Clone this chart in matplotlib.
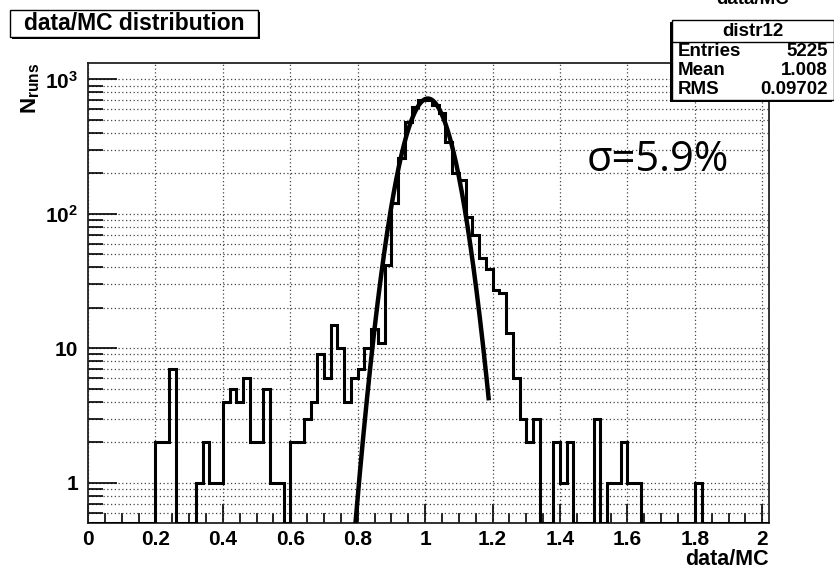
import numpy as np
import matplotlib
matplotlib.use('Agg')
import matplotlib.pyplot as plt
from matplotlib.patches import Rectangle
from matplotlib.ticker import FixedLocator, FixedFormatter, NullFormatter

# histogram "distr12": data/MC ratio per run, 0.02 wide bins starting at 0
bin_width = 0.02
counts = [0, 0, 0, 0, 0, 0, 0, 0, 0, 0,
          2, 2, 7, 0, 0, 0, 1, 2, 1, 1,
          4, 5, 4, 6, 2, 2, 5, 1, 1, 0,
          2, 2, 3, 4, 9, 6, 15, 10, 4, 6,
          7, 10, 14, 11, 42, 120, 262, 483, 624, 700,
          700, 640, 560, 343, 200, 178, 95, 70, 47, 39,
          27, 26, 13, 6, 3, 2, 3, 0, 0, 2,
          1, 2, 0, 0, 0, 3, 0, 1, 1, 2,
          1, 1, 0, 0, 0, 0, 0, 0, 0, 0,
          1, 0, 0, 0, 0, 0, 0, 0, 0, 0,
          0]

# gaussian fit drawn over the peak
fit_amp = 720.0
fit_mean = 1.008
fit_sigma = 0.0563
fit_lo, fit_hi = 0.78, 1.189

stats_name = 'distr12'
stats_rows = [('Entries', '5225'), ('Mean', '1.008'), ('RMS', '0.09702')]
title = 'data/MC distribution'
note = '\u03c3=5.9%'

W, H = 834, 569
plt.rcParams['font.family'] = ['Liberation Sans', 'DejaVu Sans']
plt.rcParams['font.weight'] = 'bold'
plt.rcParams['mathtext.fontset'] = 'custom'
plt.rcParams['mathtext.rm'] = 'Liberation Sans:bold'
plt.rcParams['mathtext.bf'] = 'Liberation Sans:bold'
plt.rcParams['mathtext.it'] = 'Liberation Sans:bold'


def fx(px):
    return px / W


def fy(py):
    return 1 - py / H


fig = plt.figure(figsize=(W / 100, H / 100), dpi=100)
ax = fig.add_axes([fx(88), fy(522.7), fx(769) - fx(88), fy(62.7) - fy(522.7)])

edges = np.arange(len(counts) + 1) * bin_width
vals = np.array(counts, dtype=float)
vals[vals == 0] = 0.5
ax.stairs(vals, edges, color='black', lw=2.2, baseline=None, zorder=3)

xf = np.linspace(fit_lo, fit_hi, 300)
yf = fit_amp * np.exp(-0.5 * ((xf - fit_mean) / fit_sigma) ** 2)
ax.plot(xf, yf, color='black', lw=3.2, zorder=4, solid_capstyle='butt')

ax.set_yscale('log')
ax.set_xlim(0, 2.02)
ax.set_ylim(0.505, 1330)

ax.xaxis.set_major_locator(FixedLocator(np.arange(0, 2.01, 0.2)))
ax.xaxis.set_minor_locator(FixedLocator(np.arange(0, 2.01, 0.05)))
ax.set_xticklabels(['0', '0.2', '0.4', '0.6', '0.8', '1', '1.2', '1.4', '1.6', '1.8', '2'])

ymaj = [1, 10, 100, 1000]
ymin = [m * d for d in [0.1, 1, 10, 100] for m in range(2, 10) if 0.5 <= m * d <= 1330]
ax.yaxis.set_major_locator(FixedLocator(ymaj))
ax.yaxis.set_major_formatter(FixedFormatter(['1', '10', r'$10^{2}$', r'$10^{3}$']))
ax.yaxis.set_minor_locator(FixedLocator(ymin))
ax.yaxis.set_minor_formatter(NullFormatter())

ax.tick_params(axis='both', which='both', direction='in', top=False, right=False,
               labelsize=15, width=1.2, color='black')
ax.tick_params(axis='x', which='major', length=14, pad=5)
ax.tick_params(axis='x', which='minor', length=7)
ax.tick_params(axis='y', which='major', length=21, pad=7)
ax.tick_params(axis='y', which='minor', length=11)

ax.grid(True, axis='x', which='major', color='#444444', lw=0.9, ls=(0, (1, 2)))
ax.grid(True, axis='y', which='both', color='#444444', lw=0.9, ls=(0, (1, 2)))
for s in ax.spines.values():
    s.set_linewidth(1.3)
    s.set_color('#222222')

ax.text(1.0, -0.058, 'data/MC', transform=ax.transAxes, ha='right', va='top', fontsize=15.5)
fig.text(fx(31), fy(63), r'$N_{runs}$', rotation=90, ha='center', va='top', fontsize=16)

ax.text(1.478, 250, note, fontsize=30, fontweight='normal', family=['Open Sans', 'DejaVu Sans'],
        ha='left', va='center', zorder=5)

# title pave with shadow
fig.add_artist(Rectangle((fx(12), fy(39)), fx(258) - fx(10), fy(10) - fy(37),
                         transform=fig.transFigure, facecolor='black', edgecolor='none'))
fig.add_artist(Rectangle((fx(10), fy(37)), fx(258) - fx(10), fy(10) - fy(37),
                         transform=fig.transFigure, facecolor='white', edgecolor='black', lw=1))
fig.text(fx(134), fy(23.5), title, ha='center', va='center', fontsize=16.5)

# stats box, histogram title peeking above it
fig.text(fx(753), fy(-1), 'data/MC', ha='center', va='center', fontsize=13.5)
sx0, sx1, sy0, sy1 = 672, 834, 20, 100
fig.add_artist(Rectangle((fx(sx0 - 2), fy(sy1 + 2)), fx(sx1) - fx(sx0), fy(sy0) - fy(sy1),
                         transform=fig.transFigure, facecolor='black', edgecolor='none'))
fig.add_artist(Rectangle((fx(sx0), fy(sy1)), fx(sx1) - fx(sx0), fy(sy0) - fy(sy1),
                         transform=fig.transFigure, facecolor='white', edgecolor='black', lw=1))
fig.add_artist(plt.Line2D([fx(sx0), fx(sx1)], [fy(42), fy(42)], transform=fig.transFigure,
                          color='black', lw=1))
fig.text(fx((sx0 + sx1) / 2), fy(31), stats_name, ha='center', va='center', fontsize=13.5)
for i, (k, v) in enumerate(stats_rows):
    yy = fy(52 + 18.5 * i)
    fig.text(fx(sx0 + 6), yy, k, ha='left', va='center', fontsize=13.5)
    fig.text(fx(sx1 - 6), yy, v, ha='right', va='center', fontsize=13.5)

fig.savefig('out.png', dpi=100)
